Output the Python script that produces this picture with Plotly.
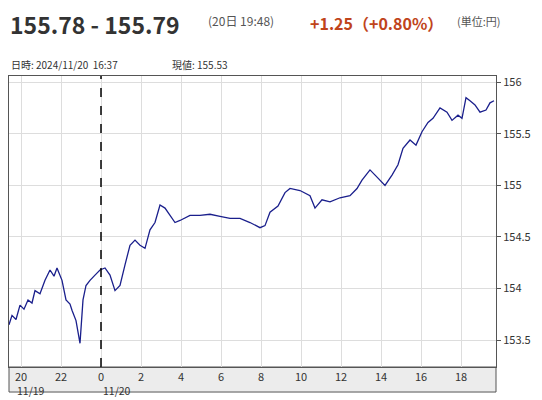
import plotly.graph_objects as go

# hours relative to 2024/11/20 00:00
hours = [-4.6, -4.45, -4.25, -4.05, -3.85, -3.65, -3.45, -3.3, -3.05, -2.8,
         -2.55, -2.35, -2.2, -1.95, -1.75, -1.55, -1.45, -1.25, -1.05, -0.9,
         -0.75, -0.55, -0.3, -0.05, 0.2, 0.45, 0.7, 0.95, 1.2, 1.45,
         1.7, 1.95, 2.2, 2.45, 2.7, 2.95, 3.2, 3.45, 3.7, 3.95,
         4.45, 4.95, 5.45, 5.95, 6.45, 6.95, 7.45, 7.95, 8.2, 8.45,
         8.85, 9.2, 9.45, 9.95, 10.45, 10.7, 11.05, 11.45, 11.95, 12.45,
         12.8, 13.05, 13.45, 13.85, 14.2, 14.55, 14.85, 15.1, 15.45, 15.75,
         16.05, 16.35, 16.6, 16.95, 17.3, 17.55, 17.85, 18.05, 18.25, 18.45,
         18.7, 18.95, 19.25, 19.45, 19.65]
price = [153.65, 153.74, 153.70, 153.84, 153.80, 153.89, 153.86, 153.98, 153.95, 154.08,
         154.18, 154.12, 154.20, 154.08, 153.89, 153.85, 153.79, 153.69, 153.47, 153.89,
         154.03, 154.08, 154.13, 154.18, 154.20, 154.13, 153.98, 154.03, 154.23, 154.42,
         154.47, 154.42, 154.39, 154.57, 154.64, 154.81, 154.78, 154.71, 154.64, 154.66,
         154.71, 154.71, 154.72, 154.70, 154.68, 154.68, 154.64, 154.59, 154.61, 154.74,
         154.80, 154.93, 154.97, 154.95, 154.90, 154.78, 154.86, 154.84, 154.88, 154.90,
         154.97, 155.05, 155.15, 155.07, 155.00, 155.10, 155.20, 155.36, 155.44, 155.39,
         155.52, 155.61, 155.65, 155.75, 155.71, 155.63, 155.68, 155.65, 155.85, 155.82,
         155.78, 155.71, 155.73, 155.80, 155.82]

tick_vals = [-4, -2, 0, 2, 4, 6, 8, 10, 12, 14, 16, 18]
tick_text = ["20", "22", "0", "2", "4", "6", "8", "10", "12", "14", "16", "18"]
date_labels = [(-4.3, "11/19"), (0.0, "11/20")]
y_ticks = [153.5, 154, 154.5, 155, 155.5, 156]

font = "Noto Sans CJK JP"

fig = go.Figure()
fig.add_trace(go.Scatter(x=hours, y=price, mode="lines",
                         line=dict(color="#1a1f8c", width=1.3), showlegend=False))
fig.add_vline(x=0, line_dash="dash", line_color="black", line_width=1.5)
fig.add_shape(type="rect", xref="paper", yref="paper", x0=0, x1=1, y0=-0.086, y1=0,
              fillcolor="#ececec", line=dict(color="#555", width=1), layer="below")

# page has an 8px body margin, so the figure is a bit smaller than the window
fig.update_layout(
    width=534, height=392,
    margin=dict(l=1, r=46, t=68, b=33),
    plot_bgcolor="white", paper_bgcolor="white",
    font=dict(family=font, size=11, color="#333"),
    xaxis=dict(range=[-4.6, 19.75], tickvals=tick_vals, ticktext=tick_text,
               showgrid=True, gridcolor="#dddddd", ticks="", zeroline=False,
               showline=True, linecolor="#555", mirror=True,
               tickfont=dict(size=11), ticklabelstandoff=0),
    yaxis=dict(range=[153.24, 156.06], tickvals=y_ticks, side="right",
               tickformat="~g", showgrid=True, gridcolor="#dddddd", zeroline=False,
               showline=True, linecolor="#555", mirror=True, ticks="outside",
               ticklen=4, tickcolor="#555", tickfont=dict(size=11)),
)

for x, t in date_labels:
    fig.add_annotation(x=x, y=0, xref="x", yref="paper", xanchor="left", yanchor="top",
                       yshift=-14, showarrow=False, text=t, font=dict(size=10.5, color="#333"))


def px(v):
    return (v - 9) / 487


fig.add_annotation(x=px(8), y=1.0, xref="paper", yref="paper", xanchor="left", yanchor="top",
                   yshift=71, showarrow=False,
                   text="<b><span style='font-size:23px;color:#333'>155.78 - 155.79</span></b>")
fig.add_annotation(x=px(206), y=1.0, xref="paper", yref="paper", xanchor="left", yanchor="top",
                   yshift=66, showarrow=False,
                   text="(20日 19:48)", font=dict(size=12, color="#555"))
fig.add_annotation(x=px(308), y=1.0, xref="paper", yref="paper", xanchor="left", yanchor="top",
                   yshift=67, showarrow=False,
                   text="<b>+1.25（+0.80%）</b>", font=dict(size=16, color="#c0441b"))
fig.add_annotation(x=px(455), y=1.0, xref="paper", yref="paper", xanchor="left", yanchor="top",
                   yshift=65, showarrow=False,
                   text="(単位:円)", font=dict(size=11, color="#555"))
fig.add_annotation(x=px(9), y=1.0, xref="paper", yref="paper", xanchor="left", yanchor="bottom",
                   yshift=2, showarrow=False,
                   text="日時: 2024/11/20  16:37", font=dict(size=10, color="#333"))
fig.add_annotation(x=px(170), y=1.0, xref="paper", yref="paper", xanchor="left", yanchor="bottom",
                   yshift=2, showarrow=False,
                   text="現値: 155.53", font=dict(size=10, color="#333"))

fig.write_html("out.html")
